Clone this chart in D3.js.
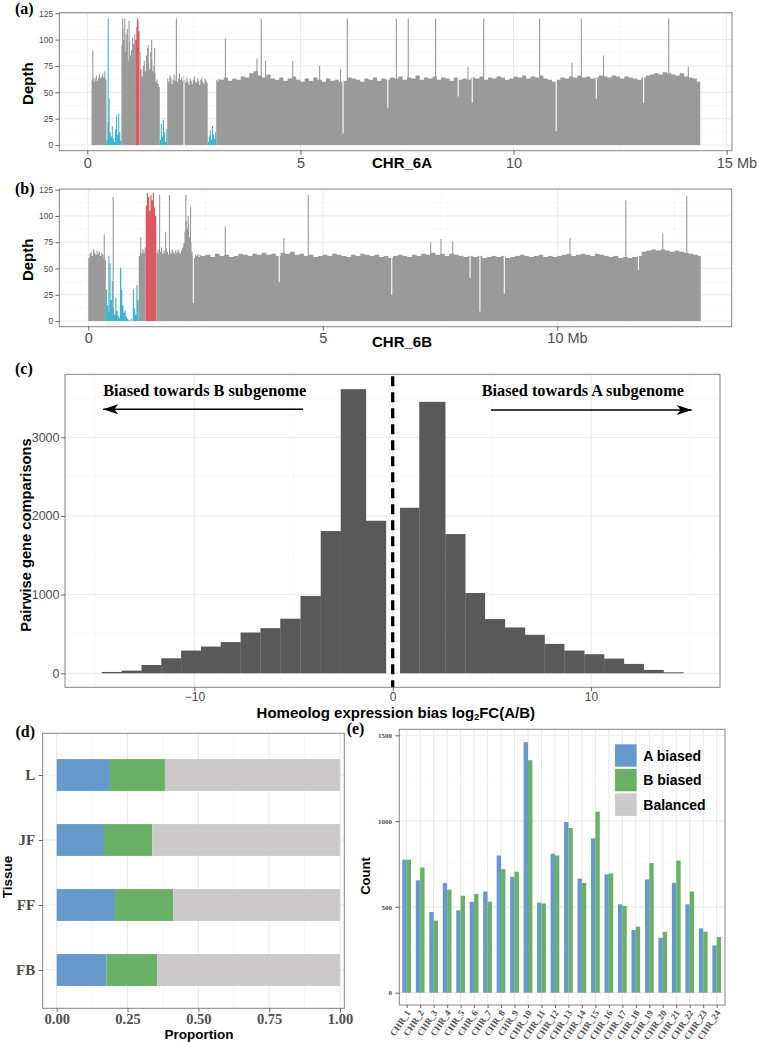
<!DOCTYPE html>
<html><head><meta charset="utf-8">
<script src="https://cdn.jsdelivr.net/npm/d3@7/dist/d3.min.js"></script>
<style>body{margin:0;background:#fff}svg{display:block}</style>
</head><body>
<svg id="fig" width="757" height="1042"></svg>
<script>
// ---------------- DATA ----------------
// (a)/(b) sequencing depth, CHR_6A / CHR_6B (Mb, depth)
const chrLenA = 14.38, chrLenB = 13.06;
const fineStep = 0.025, coarseStep = 0.1;
const depthA_fine = [0,0,0,0, 62,64,60,63,66,61,64,67,63,65,68,64,70,62,
  5,22,44,12,8,18,6,3,15,28,10,30,12,4,
  95,110,100,88,105,92,80,98,85,90,102,96,105,
  100,112,118,108,
  88,72,65,75,80,70,85,92,78,72,88,80,70,75,68,60,62,58,55,
  5,20,8,24,12,3,15,
  63,60,66,64,58,62,67,61,65,60,63,68,62,64,61,66,
  62,59,64,60,57,63,61,58,62,65,60,59,63,61,57,62,64,60,58,63,61,59,
  3,8,14,5,18,10,6,12,
  62,60,63];
const depthA_coarse = [62,64,61,63,62,65,64,68,70,66, 64,67,63,62,64,61,63,65,62,60,
  63,61,64,62,60,63,61,62,60,61, 64,63,62,60,63,62,64,61,63,62,
  64,63,65,62,64,63,66,62,64,63, 65,62,64,63,61,64,62,63,62,64,
  63,65,62,64,63,65,64,62,63,65, 64,66,63,65,64,66,63,62,60,62,
  64,63,65,64,66,64,65,63,64,66, 65,64,66,65,63,65,64,63,62,64,
  66,67,68,67,69,68,67,66,68,65, 64,63,60];
const lowA = [[0.45,0.80],[1.70,1.875],[2.825,3.025]];
const highA = [[1.125,1.225]];
const spikesA = [[0.13,90],[0.49,120],[0.83,120],[0.88,120],[0.94,110],[0.98,118],[1.18,120],[1.43,95],[1.51,100],[1.58,92],
  [2.09,120],[3.24,101],[3.98,82],[4.08,120],[4.18,80],[4.82,80],[5.45,75],[5.94,72],[6.10,120],[7.25,120],[7.53,120],
  [8.17,120],[8.93,74],[9.30,120],[10.61,120],[11.37,78],[11.59,120],[12.11,85],[13.64,120],[14.10,74]];
const dipsA = [[2.27,0],[6.0,11],[7.05,35],[8.7,46],[9.03,40],[11.0,13],[11.94,44],[13.05,40]];

const depthB_fine = [60, 64,66,62,68,65,63,67,64,66,62,65,63,60,58,
  30,15,8,55,20,38,12,6,22,10,5,3,48,30,15,8,10,4,2,1,0,2,0,30,12,6,34,20,
  62,66,64,68,65,70,
  110,122,118,105,120,115,122,108,100,
  65,68,63,66,70,64,67,65,69,66, 63,67,64,68,66,64,67,65,68,66,
  64,67,70,74,85,95,88,92,80,75, 66,62,60,63,62,64,61,63];
const depthB_coarse = [62,63,61,64,62,63,61,62,64,63, 62,64,63,65,63,64,62,65,64,66,
  63,64,62,63,61,62,63,62,64,63, 62,61,63,62,64,63,62,63,61,62,
  60,62,63,62,61,63,62,64,63,65, 63,64,62,64,63,62,61,62,61,62,
  60,61,62,61,62,60,61,62,63,62, 61,62,63,61,62,61,62,63,64,62,
  63,64,63,62,64,63,62,61,62,60, 61,60,61,62,66,67,68,67,68,67,
  66,67,66,65,64,63,62];
const lowB = [[0.375,1.075]];
const highB = [[1.225,1.45]];
const spikesB = [[0.34,82],[0.44,62],[0.53,118,'n'],[0.69,51],[1.12,80],[1.52,120],[1.65,85],[1.73,120],[2.08,120],[2.13,100],
  [2.18,109],[2.92,90],[4.17,79],[4.69,120],[7.30,75],[7.52,78],[7.77,76],[10.27,79],[11.46,115],[12.25,83],[12.76,119]];
const dipsB = [[2.24,17],[4.07,37],[6.47,25],[8.14,41],[8.35,9],[8.87,26],[11.73,49]];

const depthTicks = [0,25,50,75,100,125];
const mbTicksA = [0,5,10,15], mbLabelsA = ['0','5','10','15 Mb'];
const mbTicksB = [0,5,10],    mbLabelsB = ['0','5','10 Mb'];

// (c) histogram of log2FC(A/B)
const histEdgesNeg = [-14.67,-13.67,-12.67,-11.67,-10.67,-9.67,-8.67,-7.67,-6.67,-5.67,-4.65,-3.63,-2.62,-1.35,-0.34];
const histCountsNeg = [17,34,106,191,289,340,396,519,574,694,983,1808,3612,1939];
const histEdgesPos = [0.37,1.34,2.65,3.66,4.65,5.66,6.67,7.66,8.65,9.66,10.66,11.66,12.66,13.66,14.66];
const histCountsPos = [2104,3451,1770,1021,689,583,489,374,289,243,187,119,43,13];
const histXTicks = [-10,0,10], histYTicks = [0,1000,2000,3000];
const annB = {label:'Biased towards B subgenome', x:-14.6, y:3520, arrowFrom:-4.52, arrowTo:-14.6, arrowY:3356};
const annA = {label:'Biased towards A subgenome', x:4.49, y:3520, arrowFrom:4.96, arrowTo:15.08, arrowY:3347};

// (d) proportions by tissue
const tissues = ['L','JF','FF','FB'];
const propA = [0.188,0.167,0.206,0.176];
const propB = [0.194,0.170,0.206,0.179];
const propBal = [0.618,0.663,0.588,0.645];
const propTicks = [0,0.25,0.5,0.75,1];

// (e) counts by chromosome
const chrs = ['CHR_1','CHR_2','CHR_3','CHR_4','CHR_5','CHR_6','CHR_7','CHR_8','CHR_9','CHR_10','CHR_11','CHR_12',
  'CHR_13','CHR_14','CHR_15','CHR_16','CHR_17','CHR_18','CHR_19','CHR_20','CHR_21','CHR_22','CHR_23','CHR_24'];
const countA = [775,655,470,640,480,530,590,800,675,1460,525,810,995,665,900,690,515,365,660,320,640,515,375,275];
const countB = [775,730,420,600,565,575,530,720,705,1355,520,800,960,640,1055,695,505,385,755,355,770,590,355,325];
const countTicks = [0,500,1000,1500];
const legendLabels = ['A biased','B biased','Balanced'];

// ---------------- STYLE ----------------
const SANS = '"Liberation Sans", Arial, Helvetica, sans-serif';
const SERIF = '"Liberation Serif", "Times New Roman", serif';
const GMAJ = '#E8E8E8', GMIN = '#F4F4F4', BORDER = '#858585', TICKC = '#444', TXT = '#4D4D4D';
const C_GRAY = '#9A9A9A', C_LOW = '#3DB5D3', C_HIGH = '#DD5860';
const C_A = '#679ACC', C_B = '#6BB067', C_BAL = '#CCCACB', C_HIST = '#595959';
const fmtInt = d3.format('d');

const svg = d3.select('#fig');
svg.append('rect').attr('width',757).attr('height',1042).attr('fill','#fff');

function gridAndBg(g, P, x, y, xMaj, xMin, yMaj, yMin){
  g.append('rect').attr('x',P.x0).attr('y',P.y0).attr('width',P.x1-P.x0).attr('height',P.y1-P.y0).attr('fill','#fff');
  const vline=(v,c,w)=>g.append('line').attr('x1',x(v)).attr('x2',x(v)).attr('y1',P.y0).attr('y2',P.y1).attr('stroke',c).attr('stroke-width',w);
  const hline=(v,c,w)=>g.append('line').attr('y1',y(v)).attr('y2',y(v)).attr('x1',P.x0).attr('x2',P.x1).attr('stroke',c).attr('stroke-width',w);
  xMin.forEach(v=>vline(v,GMIN,0.6)); yMin.forEach(v=>hline(v,GMIN,0.6));
  xMaj.forEach(v=>vline(v,GMAJ,1)); yMaj.forEach(v=>hline(v,GMAJ,1));
}
function border(g,P){
  g.append('rect').attr('x',P.x0).attr('y',P.y0).attr('width',P.x1-P.x0).attr('height',P.y1-P.y0)
   .attr('fill','none').attr('stroke',BORDER).attr('stroke-width',1);
}
function styleAxis(a, family, size, weight, color){
  a.select('.domain').remove();
  a.attr('font-family',null).attr('font-size',null);
  a.selectAll('.tick line').attr('stroke',TICKC).attr('stroke-width',0.8);
  a.selectAll('.tick text').attr('font-family',family).attr('font-size',size).attr('font-weight',weight).attr('fill',color);
  return a;
}
function text(g, str, x, y, opt){
  const t = g.append('text').attr('x',x).attr('y',y).text(str)
    .attr('font-family',opt.family||SANS).attr('font-size',opt.size||14).attr('font-weight',opt.weight||'bold')
    .attr('fill',opt.color||'#000').attr('text-anchor',opt.anchor||'middle');
  if(opt.rotate) t.attr('transform',`rotate(${opt.rotate},${x},${y})`);
  return t;
}

// ---------------- (a)/(b) coverage ----------------
function coveragePanel(cfg){
  const P = cfg.P;
  const g = svg.append('g');
  const x = d3.scaleLinear().domain([0,cfg.xRef]).range(cfg.xRange);
  const y = d3.scaleLinear().domain([0,125]).range(cfg.yRange);
  gridAndBg(g,P,x,y,cfg.ticks,[2.5,7.5,12.5],depthTicks,[12.5,37.5,62.5,87.5,112.5]);
  const clipId = 'clip'+cfg.id;
  svg.append('clipPath').attr('id',clipId).append('rect').attr('x',P.x0).attr('y',P.y0).attr('width',P.x1-P.x0).attr('height',P.y1-P.y0);
  const inR = (v,rs)=>rs.some(r=>v>=r[0]&&v<r[1]);
  const colorOf = m => inR(m,cfg.low)?C_LOW:(inR(m,cfg.high)?C_HIGH:C_GRAY);
  const wins = [];
  cfg.fine.forEach((d,i)=>wins.push({s:i*fineStep,e:(i+1)*fineStep,d}));
  const off = cfg.fine.length*fineStep;
  cfg.coarse.forEach((d,i)=>wins.push({s:off+i*coarseStep,e:Math.min(off+(i+1)*coarseStep,cfg.len),d}));
  const runs=[]; let cur=null;
  wins.forEach(w=>{
    const c=colorOf((w.s+w.e)/2);
    if(w.d<=0){cur=null;return;}
    if(!cur||cur.c!==c){cur={c,ws:[]};runs.push(cur);}
    cur.ws.push(w);
  });
  const area=d3.area().x(p=>x(p[0])).y0(y(0)).y1(p=>y(p[1])).curve(d3.curveStepAfter);
  const cg = g.append('g').attr('clip-path',`url(#${clipId})`);
  runs.forEach(r=>{
    const pts=r.ws.map(w=>[w.s,w.d]); const last=r.ws[r.ws.length-1]; pts.push([last.e,last.d]);
    cg.append('path').attr('d',area(pts)).attr('fill',r.c);
  });
  const depthAt = p => { const w = wins.find(w=>p>=w.s&&p<w.e); return w?w.d:0; };
  cg.selectAll('line.dip').data(cfg.dips).join('line').attr('class','dip')
    .attr('x1',d=>x(d[0])).attr('x2',d=>x(d[0])).attr('y1',d=>y(d[1])).attr('y2',d=>y(depthAt(d[0])))
    .attr('stroke','#fff').attr('stroke-width',1.1);
  cg.selectAll('line.spk').data(cfg.spikes).join('line').attr('class','spk')
    .attr('x1',d=>x(d[0])).attr('x2',d=>x(d[0])).attr('y1',d=>y(d[1])).attr('y2',y(0))
    .attr('stroke',d=>d[2]==='n'?C_GRAY:colorOf(d[0])).attr('stroke-width',1.1);
  border(g,P);
  const ax = g.append('g').attr('transform',`translate(0,${P.y1})`)
    .call(d3.axisBottom(x).tickValues(cfg.ticks).tickFormat((d,i)=>cfg.labels[i]).tickSize(4).tickPadding(cfg.tickPad));
  styleAxis(ax,SANS,14.5,'normal',TXT);
  ax.selectAll('.tick text').filter((d,i)=>i===cfg.ticks.length-1).attr('text-anchor','start').attr('dx','-0.72em');
  const ay = g.append('g').attr('transform',`translate(${P.x0},0)`)
    .call(d3.axisLeft(y).tickValues(depthTicks).tickSize(4).tickPadding(2));
  styleAxis(ay,SANS,8.5,'normal',TXT);
  text(g,'Depth',33,(P.y0+P.y1)/2+2,{size:15,rotate:-90});
  text(g,cfg.title,402,cfg.titleY,{size:15});
  text(g,cfg.tag,15,cfg.tagY,{family:SERIF,size:16,anchor:'start'});
}
coveragePanel({id:'A',P:{x0:59.3,y0:12.7,x1:732,y1:150.7},xRef:15,xRange:[87.3,726.7],yRange:[145,13.3],
  fine:depthA_fine,coarse:depthA_coarse,len:chrLenA,low:lowA,high:highA,spikes:spikesA,dips:dipsA,
  ticks:mbTicksA,labels:mbLabelsA,tickPad:2.8,title:'CHR_6A',titleY:168,tag:'(a)',tagY:14});
coveragePanel({id:'B',P:{x0:59.3,y0:189,x1:731.7,y1:326.7},xRef:10,xRange:[88.3,557.3],yRange:[321,189.7],
  fine:depthB_fine,coarse:depthB_coarse,len:chrLenB,low:lowB,high:highB,spikes:spikesB,dips:dipsB,
  ticks:mbTicksB,labels:mbLabelsB,tickPad:1.8,title:'CHR_6B',titleY:347,tag:'(b)',tagY:194});

// ---------------- (c) histogram ----------------
(function(){
  const P={x0:65,y0:374.3,x1:720,y1:687.3};
  const g=svg.append('g');
  const x=d3.scaleLinear().domain([0,10]).range([392.7,591]);
  const y=d3.scaleLinear().domain([0,3000]).range([673.3,437.3]);
  gridAndBg(g,P,x,y,histXTicks,[-15,-5,5,15],histYTicks,[500,1500,2500,3500]);
  const bins=[];
  histCountsNeg.forEach((c,i)=>bins.push({a:histEdgesNeg[i],b:histEdgesNeg[i+1],c}));
  histCountsPos.forEach((c,i)=>bins.push({a:histEdgesPos[i],b:histEdgesPos[i+1],c}));
  g.selectAll('rect.bin').data(bins).join('rect').attr('class','bin')
    .attr('x',d=>x(d.a)).attr('width',d=>x(d.b)-x(d.a)+0.2).attr('y',d=>y(d.c)).attr('height',d=>y(0)-y(d.c)).attr('fill',C_HIST);
  g.append('line').attr('x1',x(0)).attr('x2',x(0)).attr('y1',P.y0+2).attr('y2',P.y1)
    .attr('stroke','#000').attr('stroke-width',3.3).attr('stroke-dasharray','10,6');
  const defs=svg.append('defs');
  defs.append('marker').attr('id','arr').attr('viewBox','-16 -6 17 12').attr('refX',0).attr('refY',0)
    .attr('markerWidth',17).attr('markerHeight',12).attr('markerUnits','userSpaceOnUse').attr('orient','auto')
    .append('path').attr('d','M0,0 L-15,-5 L-11,0 L-15,5 Z').attr('fill','#000');
  [annB,annA].forEach(a=>{
    text(g,a.label,x(a.x),y(a.y),{family:SERIF,size:16.3,anchor:'start'});
    g.append('line').attr('x1',x(a.arrowFrom)).attr('x2',x(a.arrowTo)).attr('y1',y(a.arrowY)).attr('y2',y(a.arrowY))
      .attr('stroke','#000').attr('stroke-width',1.5).attr('marker-end','url(#arr)');
  });
  border(g,P);
  const ax=g.append('g').attr('transform',`translate(0,${P.y1})`)
    .call(d3.axisBottom(x).tickValues(histXTicks).tickFormat(d=>d<0?'\u2212'+Math.abs(d):String(d)).tickSize(4).tickPadding(1));
  styleAxis(ax,SANS,12,'normal',TXT);
  const ay=g.append('g').attr('transform',`translate(${P.x0},0)`)
    .call(d3.axisLeft(y).tickValues(histYTicks).tickFormat(fmtInt).tickSize(4).tickPadding(1.5));
  styleAxis(ay,SANS,12.5,'normal',TXT);
  text(g,'Pairwise gene comparisons',31,535,{size:14.7,rotate:-90});
  const t=g.append('text').attr('x',395.8).attr('y',718).attr('text-anchor','middle')
    .attr('font-family',SANS).attr('font-size',15).attr('font-weight','bold');
  t.append('tspan').text('Homeolog expression bias log');
  t.append('tspan').attr('font-size',9).attr('dy',2).text('2');
  t.append('tspan').attr('dy',-2).text('FC(A/B)');
  text(g,'(c)',15,374,{family:SERIF,size:16,anchor:'start'});
})();

// ---------------- (d) stacked proportions ----------------
(function(){
  const P={x0:42.7,y0:733.3,x1:344.3,y1:1008.3};
  const g=svg.append('g');
  const x=d3.scaleLinear().domain([0,1]).range([56.7,340]);
  const y=d3.scalePoint().domain(tissues).range([775,970]);
  gridAndBg(g,P,x,y,propTicks,[0.125,0.375,0.625,0.875],tissues,[]);
  const bh=0.49*(y(tissues[1])-y(tissues[0]));
  const rows=tissues.map((t,i)=>({t,segs:[[0,propA[i],C_A],[propA[i],propA[i]+propB[i],C_B],[propA[i]+propB[i],propA[i]+propB[i]+propBal[i],C_BAL]]}));
  rows.forEach(r=>{
    g.selectAll(null).data(r.segs).join('rect')
      .attr('x',s=>x(s[0])).attr('width',s=>x(s[1])-x(s[0])).attr('y',y(r.t)-bh/2).attr('height',bh).attr('fill',s=>s[2]);
  });
  border(g,P);
  const ax=g.append('g').attr('transform',`translate(0,${P.y1})`)
    .call(d3.axisBottom(x).tickValues(propTicks).tickFormat(d3.format('.2f')).tickSize(4).tickPadding(1));
  styleAxis(ax,SERIF,14.5,'bold',TXT);
  const ay=g.append('g').attr('transform',`translate(${P.x0},0)`)
    .call(d3.axisLeft(y).tickSize(4).tickPadding(3.5));
  styleAxis(ay,SERIF,15,'bold',TXT);
  text(g,'Proportion',199,1038.5,{size:13.5});
  text(g,'Tissue',12,877,{size:13.5,rotate:-90});
  text(g,'(d)',15.5,737,{family:SERIF,size:16,anchor:'start'});
})();

// ---------------- (e) grouped bars ----------------
(function(){
  const P={x0:399.3,y0:729.3,x1:725,y1:1005};
  const g=svg.append('g');
  const x=d3.scalePoint().domain(chrs).range([406.7,716.7]);
  const y=d3.scaleLinear().domain([0,1500]).range([992.7,735.3]);
  gridAndBg(g,P,x,y,chrs,[],countTicks,[250,750,1250]);
  const half=0.325*x.step();
  g.selectAll('rect.a').data(chrs).join('rect').attr('class','a')
    .attr('x',c=>x(c)-half).attr('width',half).attr('y',(c,i)=>y(countA[i])).attr('height',(c,i)=>y(0)-y(countA[i])).attr('fill',C_A);
  g.selectAll('rect.b').data(chrs).join('rect').attr('class','b')
    .attr('x',c=>x(c)).attr('width',half).attr('y',(c,i)=>y(countB[i])).attr('height',(c,i)=>y(0)-y(countB[i])).attr('fill',C_B);
  const lg=g.append('g');
  [C_A,C_B,C_BAL].forEach((c,i)=>{
    lg.append('rect').attr('x',615).attr('y',744.3+i*24.6).attr('width',21.7).attr('height',22.4).attr('fill',c);
    text(lg,legendLabels[i],643.3,760.5+i*24.8,{size:14,anchor:'start'});
  });
  border(g,P);
  const ax=g.append('g').attr('transform',`translate(0,${P.y1})`)
    .call(d3.axisBottom(x).tickSize(3).tickPadding(0));
  styleAxis(ax,SERIF,9,'bold',TXT);
  ax.selectAll('.tick text').attr('text-anchor','end').attr('x',0).attr('y',0).attr('dy','0.35em')
    .attr('transform','translate(1,6) rotate(-56)');
  const ay=g.append('g').attr('transform',`translate(${P.x0},0)`)
    .call(d3.axisLeft(y).tickValues(countTicks).tickFormat(fmtInt).tickSize(4).tickPadding(3.3));
  styleAxis(ay,SERIF,7,'bold',TXT);
  text(g,'Count',370,876,{size:13,rotate:-90});
  text(g,'(e)',346.7,734,{family:SERIF,size:16,anchor:'start'});
})();
</script>
</body></html>
